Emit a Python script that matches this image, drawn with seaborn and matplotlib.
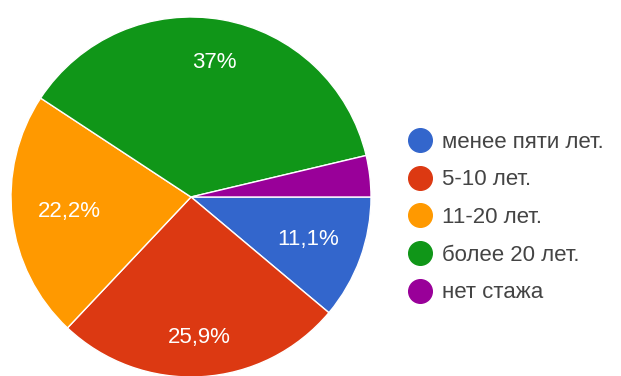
import matplotlib
matplotlib.use("Agg")
import matplotlib.pyplot as plt
import seaborn as sns
from matplotlib.lines import Line2D

categories = ["менее пяти лет.", "5-10 лет.", "11-20 лет.", "более 20 лет.", "нет стажа"]
counts = [3, 7, 6, 10, 1]
colors = ["#3366cc", "#dc3912", "#ff9900", "#109618", "#990099"]

sns.set_theme(style="white")
plt.rcParams["font.family"] = ["Liberation Sans", "DejaVu Sans"]

fig = plt.figure(figsize=(6.21, 3.76), dpi=100)
ax = fig.add_axes([11 / 621, -1 / 376, 360 / 621, 360 / 376])


def fmt(p):
    if p < 5:
        return ""
    s = f"{p:.1f}"
    if s.endswith(".0"):
        s = s[:-2]
    return s.replace(".", ",") + "%"


base_dist = 0.75
wedges, texts, autotexts = ax.pie(
    counts,
    colors=colors,
    startangle=0,
    counterclock=False,
    autopct=fmt,
    pctdistance=base_dist,
    wedgeprops=dict(edgecolor="white", linewidth=1.0),
    textprops=dict(color="white", fontsize=16),
)
# label placement similar to the Google chart renderer
label_dist = [0.69, 0.78, 0.68, 0.76, 0.70]
for t, d in zip(autotexts, label_dist):
    x, y = t.get_position()
    t.set_position((x / base_dist * d, y / base_dist * d))

ax.set_xlim(-1, 1)
ax.set_ylim(-1, 1)
ax.set_aspect("equal")

handles = [
    Line2D([0], [0], marker="o", linestyle="", markersize=17,
           markerfacecolor=c, markeredgecolor=c)
    for c in colors
]
leg = fig.legend(
    handles, categories,
    loc="upper left",
    bbox_to_anchor=(389 / 621, 1 - 114 / 376),
    frameon=False,
    fontsize=16,
    labelspacing=0.75,
    handletextpad=0.39,
    handlelength=1.2,
    borderpad=0.3,
)
for t in leg.get_texts():
    t.set_color("#444444")

fig.savefig("out.png", dpi=100)
